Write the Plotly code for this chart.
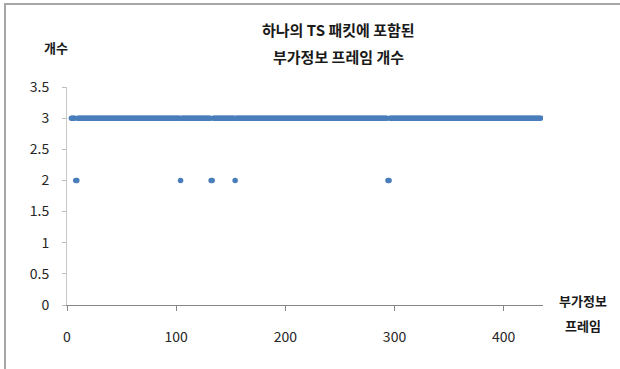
import plotly.graph_objects as go

# Data
frame_start = 4
frame_end = 434
two_frames = [8, 9, 104, 132, 133, 154, 294, 295]   # frames with count 2
other_count = 3                                      # all other frames

frames = list(range(frame_start, frame_end + 1))
counts = [2 if f in two_frames else other_count for f in frames]

x_ticks = [0, 100, 200, 300, 400]
y_ticks = [0, 0.5, 1, 1.5, 2, 2.5, 3, 3.5]
y_tick_text = ["0", "0.5", "1", "1.5", "2", "2.5", "3", "3.5"]

title_line1 = "하나의 TS 패킷에 포함된"
title_line2 = "부가정보 프레임 개수"
y_title = "개수"
x_title_1 = "부가정보"
x_title_2 = "프레임"

FONT = "Noto Sans CJK KR"
W, H = 620, 369
L, R, T, B = 67, 77, 87, 64
PW, PH = W - L - R, H - T - B

def px_x(px):
    return (px - L) / PW

def px_y(py):
    return 1 - (py - T) / PH

fig = go.Figure()
fig.add_trace(go.Scatter(
    x=frames, y=counts, mode="markers",
    marker=dict(size=5.5, color="#4A7EBB", line=dict(width=0)),
    showlegend=False, hoverinfo="skip",
))

fig.update_layout(
    width=W, height=H,
    margin=dict(l=L, r=R, t=T, b=B),
    paper_bgcolor="white", plot_bgcolor="white",
    font=dict(family=FONT, size=14, color="#262626"),
    xaxis=dict(
        range=[0, 436], tickvals=x_ticks, showgrid=False, zeroline=False,
        showline=True, linecolor="#868686", linewidth=1,
        ticks="outside", ticklen=5, tickcolor="#868686", tickwidth=1,
        ticklabelstandoff=14, tickfont=dict(size=14, family=FONT),
        fixedrange=True,
    ),
    yaxis=dict(
        range=[0, 3.5], tickvals=y_ticks, ticktext=y_tick_text,
        showgrid=False, zeroline=False,
        showline=True, linecolor="#c8c8c8", linewidth=1,
        ticks="outside", ticklen=4, tickcolor="#bdbdbd", tickwidth=1,
        ticklabelstandoff=10, tickfont=dict(size=14, family=FONT),
        fixedrange=True,
    ),
)

ann = [
    (title_line1, 338, 29, 15),
    (title_line2, 338, 57, 15),
    (y_title, 56, 47, 13),
    (x_title_1, 583, 300, 13),
    (x_title_2, 583, 325, 13),
]
for text, x, y, s in ann:
    fig.add_annotation(
        text="<b>%s</b>" % text, xref="paper", yref="paper",
        x=px_x(x), y=px_y(y), xanchor="center", yanchor="middle",
        showarrow=False, font=dict(family=FONT, size=s, color="#1a1a1a"),
    )

# outer chart frame (left and top edges visible)
fig.add_shape(
    type="rect", xref="paper", yref="paper",
    x0=px_x(5), x1=px_x(W + 10), y0=px_y(H + 10), y1=px_y(4),
    line=dict(color="#a6a6a6", width=2), fillcolor="rgba(0,0,0,0)",
    layer="below",
)

fig.write_html("out.html")
